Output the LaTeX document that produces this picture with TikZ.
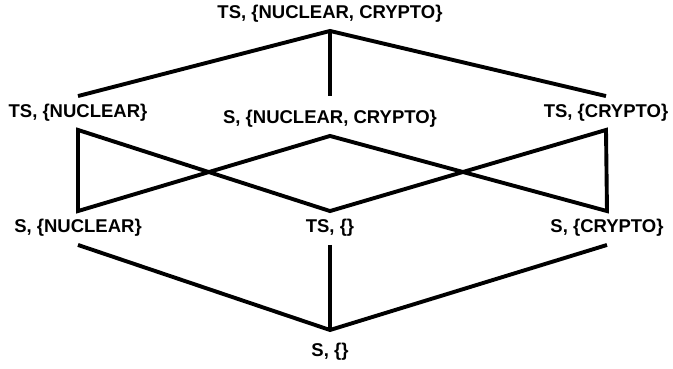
\documentclass[tikz,border=0pt]{standalone}
\usepackage{fontspec}
\setmainfont{Liberation Sans}
\usetikzlibrary{positioning}

\begin{document}
\begin{tikzpicture}[x=1pt, y=-1pt, line width=3.9pt, line join=miter, node distance=10pt]
    \tikzstyle{level}=[font=\bfseries\fontsize{18.5}{20}\selectfont, inner xsep=2pt, inner ysep=6.5pt, text height=13pt, text depth=4pt]
    \useasboundingbox (0,0) rectangle (673,368);
    % labels, top to bottom
    \node[level]    (tsnc)  at (330,14)     {TS, \{NUCLEAR, CRYPTO\}};
    \node[level]    (tsn)   at (78,113)     {TS, \{NUCLEAR\}};
    \node[level]    (snc)   at (330,119)    {S, \{NUCLEAR, CRYPTO\}};
    \node[level]    (tsc)   at (606,113)    {TS, \{CRYPTO\}};
    \node[level]    (sn)    at (78,228)     {S, \{NUCLEAR\}};
    \node[level]    (tse)   at (330,228)    {TS, \{\}};
    \node[level]    (sc)    at (607,228)    {S, \{CRYPTO\}};
    \coordinate     (meet)  at (330,330);
    \node[level]    (se)    [below=5pt of meet]    {S, \{\}};
    % top
    \draw (tsn.north) -- (tsnc.south) -- (tsc.north);
    \draw[shorten >=6pt] (tsnc.south) -- (snc.north);
    % middle ring
    \draw (tse.north) -- (tsn.south) -- (sn.north) -- (snc.south) -- (sc.north) -- (tsc.south) -- cycle;
    % bottom
    \draw (sn.south) -- (meet) -- (sc.south);
    \draw (tse.south) -- (meet);
\end{tikzpicture}
\end{document}
